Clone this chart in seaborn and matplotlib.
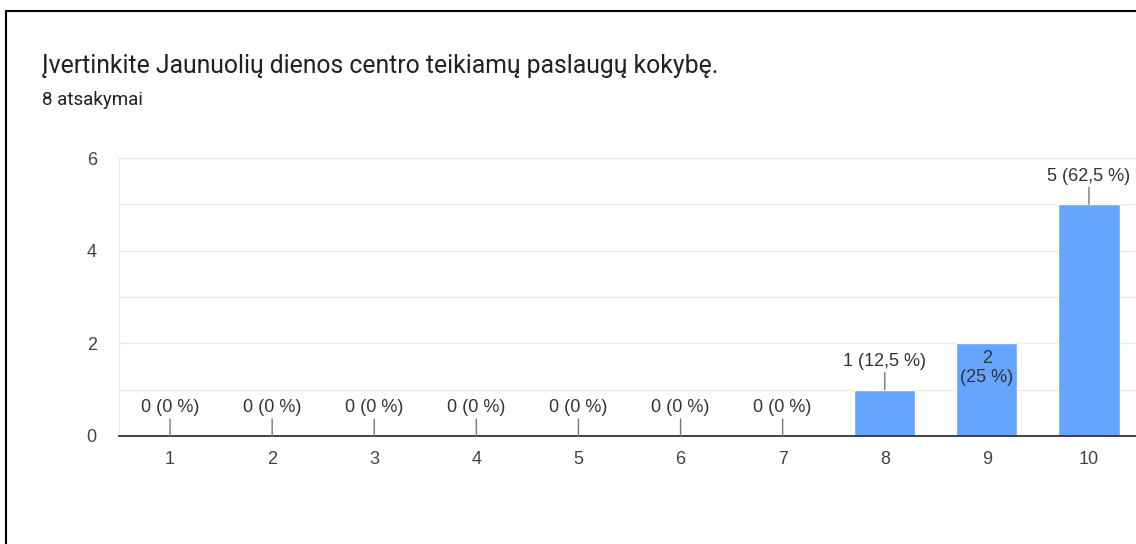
import matplotlib.pyplot as plt
import seaborn as sns
import pandas as pd
from matplotlib.lines import Line2D

# survey results
categories = ["1", "2", "3", "4", "5", "6", "7", "8", "9", "10"]
counts = [0, 0, 0, 0, 0, 0, 0, 1, 2, 5]
labels = ["0 (0 %)", "0 (0 %)", "0 (0 %)", "0 (0 %)", "0 (0 %)", "0 (0 %)",
          "0 (0 %)", "1 (12,5 %)", "2\n(25 %)", "5 (62,5 %)"]
inside = [False, False, False, False, False, False, False, False, True, False]
title = "Įvertinkite Jaunuolių dienos centro teikiamų paslaugų kokybę."
subtitle = "8 atsakymai"

df = pd.DataFrame({"score": categories, "count": counts})

sns.set_style("white")
plt.rcParams['font.family'] = ['Liberation Sans', 'DejaVu Sans']

fig = plt.figure(figsize=(11.36, 5.44), dpi=100)
ax = fig.add_axes([119 / 1136, 108 / 544, 1021 / 1136, 278 / 544])

sns.barplot(data=df, x="score", y="count", color="#63a5ff", width=0.6,
            saturation=1, ax=ax, zorder=3)

ax.set_ylim(0, 6)
ax.set_xlim(-0.5, 9.5)
ax.set_yticks([0, 2, 4, 6])
ax.set_yticks([1, 3, 5], minor=True)
ax.grid(axis="y", which="both", color="#ebebeb", linewidth=1, zorder=0)
ax.set_xlabel("")
ax.set_ylabel("")
for s in ["top", "right"]:
    ax.spines[s].set_visible(False)
ax.spines["left"].set_color("#ebebeb")
ax.spines["bottom"].set_color("#333333")
ax.spines["bottom"].set_linewidth(1.3)
ax.spines["bottom"].set_zorder(4)
ax.tick_params(axis="both", which="both", length=0, labelsize=13, colors="#444444")
ax.tick_params(axis="y", pad=16)
ax.tick_params(axis="x", pad=11)

for i, (v, lab) in enumerate(zip(counts, labels)):
    if inside[i]:
        ax.annotate(lab, xy=(i, v), xytext=(0, -25), textcoords="offset pixels",
                    ha="center", va="center", fontsize=13, color="#333333",
                    linespacing=1.15, zorder=5)
    else:
        ax.annotate("", xy=(i, v), xytext=(0, 17), textcoords="offset pixels",
                    arrowprops=dict(arrowstyle="-", color="#777777", lw=1,
                                    shrinkA=0, shrinkB=0), zorder=5)
        ax.annotate(lab, xy=(i, v), xytext=(0, 28), textcoords="offset pixels",
                    ha="center", va="center", fontsize=13, color="#333333",
                    zorder=5)

fig.text(42 / 1136, 1 - 73 / 544, title, fontsize=17.8, color="#202124",
         family=["Roboto", "DejaVu Sans"], va="baseline")
fig.text(42 / 1136, 1 - 105 / 544, subtitle, fontsize=13.5, color="#202124",
         family=["Roboto", "DejaVu Sans"], va="baseline")

# frame of the screenshot
fig.add_artist(Line2D([6 / 1136, 6 / 1136], [0, 1 - 11 / 544], color="black", lw=1.5))
fig.add_artist(Line2D([6 / 1136, 1], [1 - 11 / 544, 1 - 11 / 544], color="black", lw=1.5))

fig.savefig("out.png", dpi=100)
